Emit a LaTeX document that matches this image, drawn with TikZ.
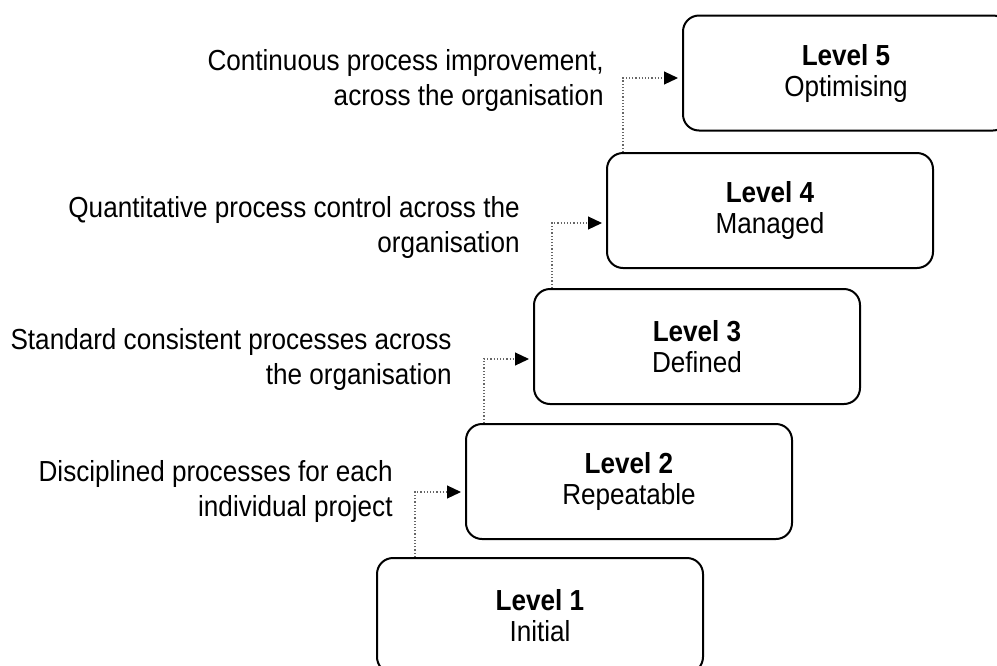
\documentclass[tikz,border=0pt]{standalone}
\usepackage{fontspec}
\setmainfont[FakeStretch = 0.9]{Liberation Sans}
\usetikzlibrary{positioning}
\usetikzlibrary{arrows.meta}

\begin{document}
\begin{tikzpicture}[x = 0.5pt, y = -0.5pt,
level/.style = {shape = rectangle, rounded corners = 8pt, draw = black, line width = 1pt, minimum width = 163pt, minimum height = 57.5pt, align = center, font = \fontsize{14.5}{15.5}\selectfont},
note/.style = {anchor = east, align = right, inner sep = 0pt, font = \fontsize{14.5}{17.5}\selectfont},
climb/.style = {draw = black!60, densely dotted, line width = 0.6pt, -{Triangle[length = 7pt, width = 6.5pt, black]}, shorten > = 2pt},
]
\clip (0,0) rectangle (997,665);

\node[level] (L1) at (540,615.5) {\textbf{Level 1}\\Initial};
\node[level] (L2) at (629,481.5) {\textbf{Level 2}\\Repeatable};
\node[level] (L3) at (697,346.5) {\textbf{Level 3}\\Defined};
\node[level] (L4) at (770,210.5) {\textbf{Level 4}\\Managed};
\node[level] (L5) at (846,73) {\textbf{Level 5}\\Optimising};

\node[note] (N1) at (393,491) {Disciplined processes for each\\individual project};
\node[note] (N2) at (452,359) {Standard consistent processes across\\the organisation};
\node[note] (N3) at (520,227) {Quantitative process control across the\\organisation};
\node[note] (N4) at (604,80) {Continuous process improvement,\\across the organisation};

\draw[climb] ([xshift = 19.5pt]L1.north west) |- ([yshift = -5.25pt]L2.west);
\draw[climb] ([xshift = 9.5pt]L2.north west) |- ([yshift = -6.25pt]L3.west);
\draw[climb] ([xshift = 9.5pt]L3.north west) |- ([yshift = -6.25pt]L4.west);
\draw[climb] ([xshift = 8.5pt]L4.north west) |- ([yshift = -2.5pt]L5.west);
\end{tikzpicture}
\end{document}
